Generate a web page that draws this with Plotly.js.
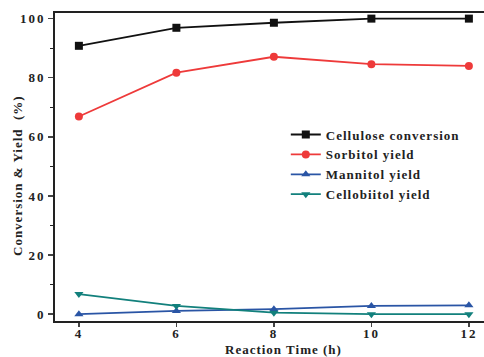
<!DOCTYPE html>
<html><head><meta charset="utf-8">
<script src="https://cdn.plot.ly/plotly-3.0.1.min.js"></script>
<style>
html,body{margin:0;padding:0;background:#fff}#c{width:484px;height:357px}
.legendtext{letter-spacing:1px}
.xtick text,.ytick text{letter-spacing:2px}
.annotation-text{letter-spacing:1px}
</style>
</head><body><div id="c"></div>
<script>
const time = [4, 6, 8, 10, 12];
const cellulose = [90.8, 96.9, 98.6, 100.0, 100.0];
const sorbitol = [66.9, 81.7, 87.1, 84.6, 84.0];
const mannitol = [0.0, 1.1, 1.7, 2.8, 3.0];
const cellobiitol = [6.8, 2.8, 0.5, 0.0, 0.0];
const names = ['Cellulose conversion', 'Sorbitol yield', 'Mannitol yield', 'Cellobiitol yield'];
const yTicks = [0, 20, 40, 60, 80, 100];
const xTicks = [4, 6, 8, 10, 12];
const xTitle = 'Reaction Time (h)';
const yTitle = 'Conversion &amp; Yield\u00a0\u00a0(%)';

function tr(y, name, color, symbol) {
  return {x: time, y: y, name: name, type: 'scatter', mode: 'lines+markers',
    line: {color: color, width: 1.8}, marker: {color: color, symbol: symbol, size: 8}};
}
const data = [
  tr(cellulose, names[0], '#111111', 'square'),
  tr(sorbitol, names[1], '#ee3a3a', 'circle'),
  tr(mannitol, names[2], '#2a55a5', 'triangle-up'),
  tr(cellobiitol, names[3], '#12807c', 'triangle-down')
];
const fam = '"Liberation Serif", "Times New Roman", serif';
const tfont = {family: fam, size: 13, color: '#222', weight: 'bold'};
const layout = {
  width: 484, height: 357,
  margin: {l: 55, r: 0, t: 13, b: 36},
  paper_bgcolor: '#fff', plot_bgcolor: '#fff',
  font: {family: fam, color: '#222', size: 13},
  showlegend: true,
  legend: {x: 0.538, y: 0.654, xanchor: 'left', yanchor: 'top', bgcolor: 'rgba(0,0,0,0)',
    itemwidth: 30, tracegroupgap: 0, font: tfont},
  xaxis: {range: [3.51, 12.31], tickvals: xTicks, ticktext: xTicks.map(String),
    ticks: 'outside', ticklen: 4, tickwidth: 1.5, showline: true, linewidth: 2, linecolor: '#222',
    ticklabelstandoff: -5,
    mirror: true, showgrid: false, zeroline: false,
    tickfont: tfont},
  yaxis: {range: [-2.3, 101.9], tickvals: yTicks, ticktext: yTicks.map(String),
    ticks: 'outside', ticklen: 5, tickwidth: 1.5, showline: true, linewidth: 2, linecolor: '#222',
    minor: {dtick: 10, tick0: 0, ticks: 'outside', ticklen: 3, tickwidth: 1.2, tickcolor: '#222'},
    showgrid: false, zeroline: false,
    tickfont: tfont},
  annotations: [
    {text: xTitle, xref: 'paper', yref: 'paper', x: 0.533, y: -0.094, xanchor: 'center', yanchor: 'middle',
      showarrow: false, font: tfont},
    {text: yTitle, xref: 'paper', yref: 'paper', x: -0.0886, y: 0.474, xanchor: 'center', yanchor: 'middle',
      textangle: -90, showarrow: false, font: tfont}
  ]
};
Plotly.newPlot('c', data, layout, {displayModeBar: false, staticPlot: true});
</script></body></html>
